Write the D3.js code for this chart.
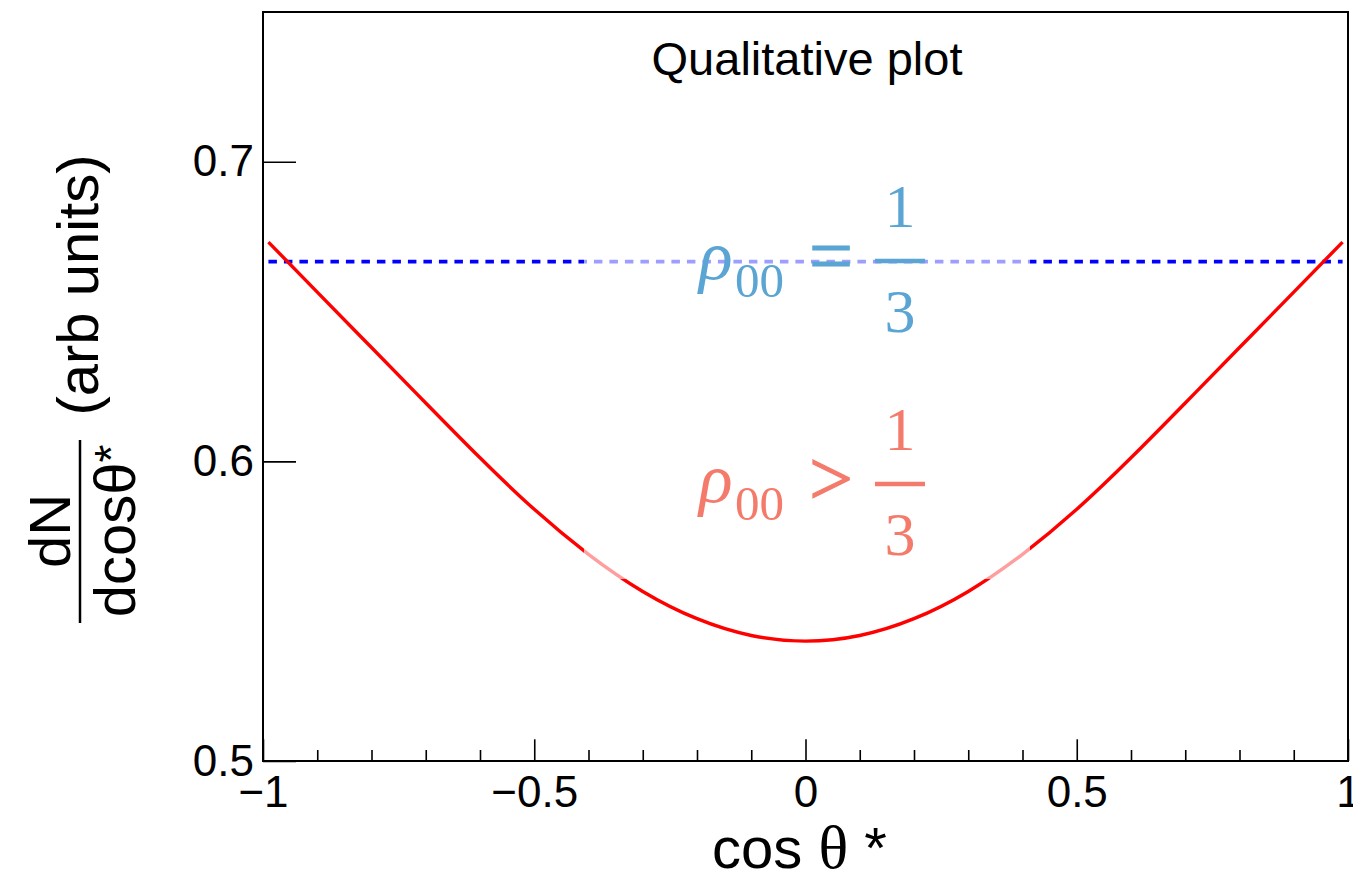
<!DOCTYPE html>
<html>
<head>
<meta charset="utf-8">
<script src="https://cdn.jsdelivr.net/npm/d3@7"></script>
<style>
  body { margin: 0; background: #fff; }
  svg { display: block; }
</style>
</head>
<body>
<script>

// values
var cosTheta = [-0.99, -0.9, -0.8, -0.7, -0.6, -0.5, -0.4, -0.3, -0.2, -0.1, 0,
                0.1, 0.2, 0.3, 0.4, 0.5, 0.6, 0.7, 0.8, 0.9, 0.99];
var dNdCos   = [0.6732, 0.6565, 0.6380, 0.6195, 0.6012, 0.5840, 0.5690, 0.5566, 0.5475, 0.5419, 0.5400,
                0.5419, 0.5475, 0.5566, 0.5690, 0.5840, 0.6012, 0.6195, 0.6380, 0.6565, 0.6732];
var flatX = [-0.99, 0.99];
var flatY = [0.6667, 0.6667];
var xMajor = [-1, -0.5, 0, 0.5, 1];
var xMinor = [-0.9, -0.8, -0.7, -0.6, -0.4, -0.3, -0.2, -0.1, 0.1, 0.2, 0.3, 0.4, 0.6, 0.7, 0.8, 0.9];
var yMajor = [0.5, 0.6, 0.7];
var xLabels = ["\u22121", "\u22120.5", "0", "0.5", "1"];

var W = 1353, H = 895;
var frame = {left: 263, right: 1348, top: 12, bottom: 761};

var sans = "'Liberation Sans', Arial, Helvetica, sans-serif";
var serif = "'Liberation Serif', 'Times New Roman', serif";
var blueTxt = "#5aa5d3", redTxt = "#f47b6c";

var svg = d3.select("body").append("svg")
            .attr("width", W)
            .attr("height", H);

var x = d3.scaleLinear().domain([-1, 1]).range([frame.left, frame.right]);
var y = d3.scaleLinear().domain([0.5, 0.75]).range([frame.bottom, frame.top]);

// dashed flat line (rho00 = 1/3)
svg.append("path")
   .datum(d3.zip(flatX, flatY))
   .attr("d", d3.line().x(function(d){ return x(d[0]); }).y(function(d){ return y(d[1]); }))
   .attr("fill", "none")
   .attr("stroke", "#0000ff")
   .attr("stroke-width", 3.8)
   .attr("stroke-dasharray", "8.5,7");

// red curve (rho00 > 1/3)
svg.append("path")
   .datum(d3.zip(cosTheta, dNdCos))
   .attr("d", d3.line().curve(d3.curveNatural)
                .x(function(d){ return x(d[0]); }).y(function(d){ return y(d[1]); }))
   .attr("fill", "none")
   .attr("stroke", "#ff0000")
   .attr("stroke-width", 3.4);

// x axis ticks (inside the frame)
var gx = svg.append("g").attr("transform", "translate(0," + frame.bottom + ")");
gx.call(d3.axisBottom(x).tickValues(xMajor).tickSize(-21.7).tickPadding(15)
          .tickFormat(function(d, i){ return xLabels[i]; }));
gx.append("g").call(d3.axisBottom(x).tickValues(xMinor).tickSize(-11).tickFormat(""));
gx.selectAll(".domain").remove();
gx.selectAll("line").attr("stroke", "#000").attr("stroke-width", 1.6);
gx.selectAll("text").attr("font-family", sans).attr("font-size", 44).attr("fill", "#000");

// y axis ticks
var gy = svg.append("g").attr("transform", "translate(" + frame.left + ",0)");
gy.call(d3.axisLeft(y).tickValues(yMajor).tickSize(-33).tickPadding(9)
          .tickFormat(d3.format(".1f")));
gy.selectAll(".domain").remove();
gy.selectAll("line").attr("stroke", "#000").attr("stroke-width", 1.6);
gy.selectAll("text").attr("font-family", sans).attr("font-size", 44).attr("fill", "#000");

// frame
svg.append("rect")
   .attr("x", frame.left).attr("y", frame.top)
   .attr("width", frame.right - frame.left).attr("height", frame.bottom - frame.top)
   .attr("fill", "none").attr("stroke", "#000").attr("stroke-width", 2);

// title
svg.append("text")
   .attr("x", 807).attr("y", 75)
   .attr("text-anchor", "middle")
   .attr("font-family", sans).attr("font-size", 47)
   .text("Qualitative plot");

// label boxes + formulas
function rhoLabel(dy, op, color)
{
  var g = svg.append("g").attr("transform", "translate(0," + dy + ")");
  g.append("rect")
   .attr("x", 584).attr("y", 170).attr("width", 446).attr("height", 186)
   .attr("fill", "#fff").attr("fill-opacity", 0.62);
  g.append("text").attr("x", 699).attr("y", 279)
   .attr("font-family", serif).attr("font-style", "italic").attr("font-size", 70)
   .attr("fill", color).text("\u03c1");
  g.append("text").attr("x", 735).attr("y", 297)
   .attr("font-family", serif).attr("font-size", 49)
   .attr("fill", color).text("00");
  g.append("text").attr("x", 831).attr("y", 282).attr("text-anchor", "middle")
   .attr("font-family", serif).attr("font-size", 78)
   .attr("fill", color).attr("stroke", color).attr("stroke-width", 1.2)
   .text(op);
  g.append("line").attr("x1", 875).attr("x2", 925).attr("y1", 261).attr("y2", 261)
   .attr("stroke", color).attr("stroke-width", 4.5);
  g.append("text").attr("x", 900).attr("y", 227).attr("text-anchor", "middle")
   .attr("font-family", serif).attr("font-size", 62)
   .attr("fill", color).text("1");
  g.append("text").attr("x", 900).attr("y", 332).attr("text-anchor", "middle")
   .attr("font-family", serif).attr("font-size", 62)
   .attr("fill", color).text("3");
}
rhoLabel(0, "=", blueTxt);
rhoLabel(223, ">", redTxt);

// x axis title
var xt = svg.append("text")
   .attr("x", 712).attr("y", 868)
   .attr("font-family", sans).attr("font-size", 58);
xt.append("tspan").text("cos ");
xt.append("tspan").attr("font-family", serif).attr("font-size", 62).text("\u03b8");
xt.append("tspan").text(" *");

// y axis title (rotated)
var yt = svg.append("g").attr("transform", "rotate(-90)");
yt.append("line")
  .attr("x1", -623).attr("x2", -440).attr("y1", 80).attr("y2", 80)
  .attr("stroke", "#000").attr("stroke-width", 2.5);
yt.append("text")
  .attr("x", -531).attr("y", 70).attr("text-anchor", "middle")
  .attr("font-family", sans).attr("font-size", 58)
  .text("dN");
var den = yt.append("text")
  .attr("x", -531).attr("y", 135).attr("text-anchor", "middle")
  .attr("font-family", sans).attr("font-size", 58);
den.append("tspan").text("dcos\u03b8");
den.append("tspan").attr("dy", -8).attr("font-size", 46).text("*");
yt.append("text")
  .attr("x", -285).attr("y", 98).attr("text-anchor", "middle")
  .attr("font-family", sans).attr("font-size", 58)
  .text("(arb units)");

</script>
</body>
</html>
